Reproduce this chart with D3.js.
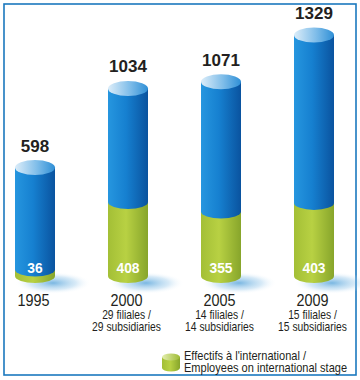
<!DOCTYPE html>
<html>
<head>
<meta charset="utf-8">
<script src="https://cdn.jsdelivr.net/npm/d3@7"></script>
<style>
  html, body { margin: 0; padding: 0; background: #fff; }
  svg { display: block; }
  text { font-family: "Liberation Sans", Arial, Helvetica, sans-serif; }
</style>
</head>
<body>
<script>
const years = ["1995", "2000", "2005", "2009"];
const totals = [598, 1034, 1071, 1329];
const international = [36, 408, 355, 403];
const subLine1 = ["", "29 filiales /", "14 filiales /", "15 filiales /"];
const subLine2 = ["", "29 subsidiaries", "14 subsidiaries", "15 subsidiaries"];
const legendLines = ["Effectifs à l'international /", "Employees on international stage"];

const W = 360, H = 380;
const svg = d3.select("body").append("svg").attr("width", W).attr("height", H);
const defs = svg.append("defs");

function linGrad(id, stops) {
  const g = defs.append("linearGradient").attr("id", id)
    .attr("x1", "0%").attr("x2", "100%").attr("y1", "0%").attr("y2", "0%");
  stops.forEach(s => g.append("stop").attr("offset", s[0]).attr("stop-color", s[1]));
}
linGrad("blueBody", [["0%", "#2696df"], ["45%", "#1680d0"], ["100%", "#0a539f"]]);
linGrad("blueTop", [["0%", "#dcedf9"], ["55%", "#7fbde9"], ["100%", "#2f8fd6"]]);
linGrad("greenBody", [["0%", "#a3bf36"], ["45%", "#b8d143"], ["100%", "#87a52b"]]);
linGrad("greenTop", [["0%", "#e4eeb0"], ["100%", "#9ebb34"]]);
const rg = defs.append("radialGradient").attr("id", "shadow");
rg.append("stop").attr("offset", "0%").attr("stop-color", "#4d9fd8").attr("stop-opacity", 0.75);
rg.append("stop").attr("offset", "60%").attr("stop-color", "#8cc2e8").attr("stop-opacity", 0.35);
rg.append("stop").attr("offset", "100%").attr("stop-color", "#ffffff").attr("stop-opacity", 0);

// frame
svg.append("rect").attr("x", 4).attr("y", 4).attr("width", 352).attr("height", 371)
  .attr("fill", "none").attr("stroke", "#1b78be").attr("stroke-width", 1.6);

const x = d3.scalePoint().domain(years).range([35, 314]);
const y = d3.scaleLinear().domain([0, 1329]).range([276, 35]);
const bw = 40, rx = bw / 2, ry = 7;

function segPath(cx, yTop, yBot) {
  const x0 = cx - rx, x1 = cx + rx;
  return `M${x0},${yTop} L${x0},${yBot} A${rx},${ry} 0 0 0 ${x1},${yBot} L${x1},${yTop} Z`;
}

const data = years.map((yr, i) => ({ yr, total: totals[i], intl: international[i], s1: subLine1[i], s2: subLine2[i] }));

const g = svg.append("g");
// shadows
g.selectAll("ellipse.shadow").data(data).join("ellipse").attr("class", "shadow")
  .attr("cx", d => x(d.yr) + 18).attr("cy", y(0) + 7)
  .attr("rx", 38).attr("ry", 11).attr("fill", "url(#shadow)");

const bars = g.selectAll("g.bar").data(data).join("g").attr("class", "bar");
bars.append("path").attr("d", d => segPath(x(d.yr), y(d.intl), y(0))).attr("fill", "url(#greenBody)");
bars.append("path").attr("d", d => segPath(x(d.yr), y(d.total), y(d.intl))).attr("fill", "url(#blueBody)");
bars.append("ellipse").attr("cx", d => x(d.yr)).attr("cy", d => y(d.total))
  .attr("rx", rx).attr("ry", ry + 0.5).attr("fill", "url(#blueTop)");

bars.append("text").attr("x", d => x(d.yr)).attr("y", d => y(d.total) - 16)
  .attr("text-anchor", "middle")
  .attr("font-weight", "bold").attr("font-size", 17).attr("fill", "#231f20")
  .text(d => d.total);
bars.append("text")
  .attr("transform", d => `translate(${x(d.yr)},273) scale(0.92,1)`)
  .attr("text-anchor", "middle")
  .attr("font-weight", "bold").attr("font-size", 15).attr("fill", "#ffffff")
  .text(d => d.intl);

// year labels (condensed)
const lab = svg.append("g").attr("fill", "#231f20").attr("text-anchor", "middle");
lab.selectAll("text.yr").data(data).join("text").attr("class", "yr")
  .attr("transform", d => `translate(${x(d.yr) - 1.5},306) scale(0.9,1)`)
  .attr("font-size", 16).text(d => d.yr);
lab.selectAll("text.s1").data(data).join("text").attr("class", "s1")
  .attr("transform", d => `translate(${x(d.yr) - 1.5},319) scale(0.86,1)`)
  .attr("font-size", 12).text(d => d.s1);
lab.selectAll("text.s2").data(data).join("text").attr("class", "s2")
  .attr("transform", d => `translate(${x(d.yr) - 1.5},331) scale(0.86,1)`)
  .attr("font-size", 12).text(d => d.s2);

// legend
const lg = svg.append("g");
const lcx = 171, lrx = 9, lry = 3.5, lt = 357, lb = 368;
lg.append("path").attr("d", `M${lcx - lrx},${lt} L${lcx - lrx},${lb} A${lrx},${lry} 0 0 0 ${lcx + lrx},${lb} L${lcx + lrx},${lt} Z`)
  .attr("fill", "url(#greenBody)");
lg.append("ellipse").attr("cx", lcx).attr("cy", lt).attr("rx", lrx).attr("ry", lry).attr("fill", "url(#greenTop)");
lg.selectAll("text").data(legendLines).join("text")
  .attr("transform", (d, i) => `translate(184,${360 + i * 11.5}) scale(0.92,1)`)
  .attr("font-size", 12).attr("fill", "#231f20")
  .text(d => d);
</script>
</body>
</html>
